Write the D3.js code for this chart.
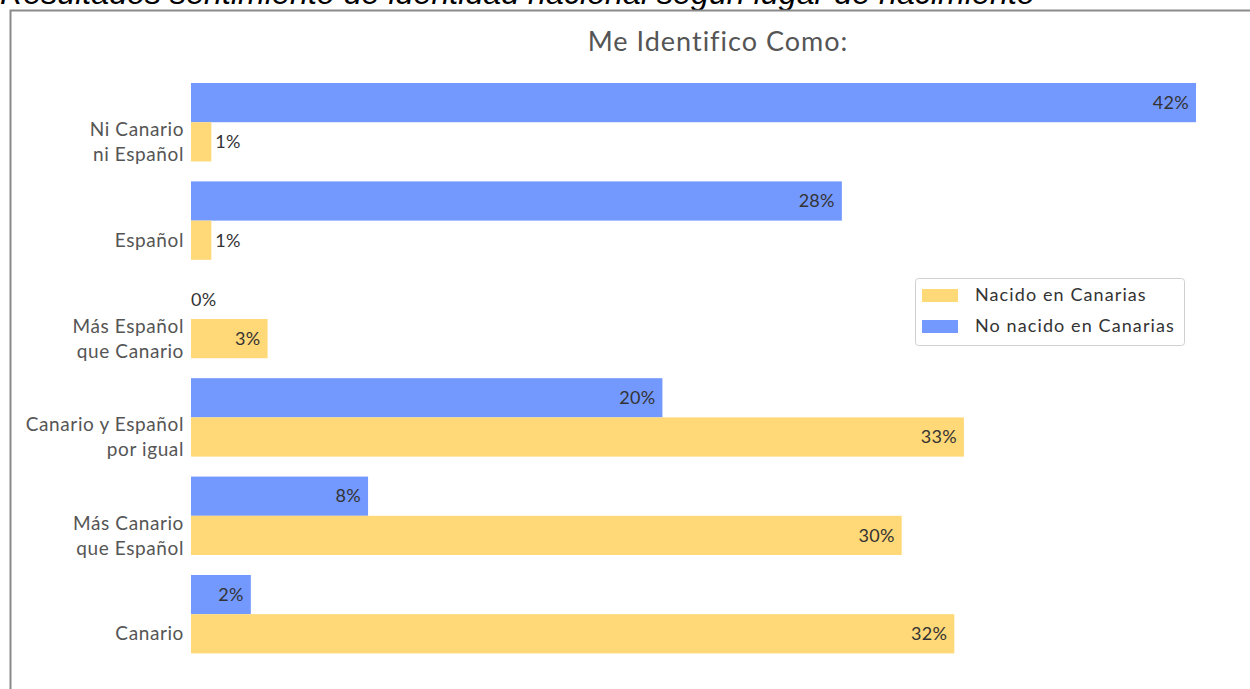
<!DOCTYPE html>
<html><head><meta charset="utf-8">
<script src="https://cdn.jsdelivr.net/npm/d3@7"></script>
<style>html,body{margin:0;padding:0;background:#fff;overflow:hidden}</style>
</head><body>
<svg id="c" width="1250" height="689"></svg>
<script>
const categories = ["Ni Canario|ni Español", "Español", "Más Español|que Canario", "Canario y Español|por igual", "Más Canario|que Español", "Canario"];
const series = ["No nacido en Canarias", "Nacido en Canarias"];
const noNacido = [42, 27.2, 0, 19.7, 7.4, 2.5];
const nacido = [0.85, 0.85, 3.2, 32.3, 29.7, 31.9];
const noNacidoLabels = ["42%", "28%", "0%", "20%", "8%", "2%"];
const nacidoLabels = ["1%", "1%", "3%", "33%", "30%", "32%"];
const legendOrder = ["Nacido en Canarias", "No nacido en Canarias"];
const pageTitle = "Resultados sentimiento de identidad nacional según lugar de nacimiento";
const chartTitle = "Me Identifico Como:";

const colors = {"No nacido en Canarias": "#7399ff", "Nacido en Canarias": "#ffd877"};
const FONT = "Lato, 'Open Sans', sans-serif";
const svg = d3.select("#c");

// page heading (cut off at top)
const ht = svg.append("text").attr("x", 0).attr("y", 4)
  .attr("font-family", "'Liberation Sans', Arial, sans-serif").attr("font-style", "italic")
  .attr("font-size", 26).attr("fill", "#000").text(pageTitle);
const w0 = ht.node().getComputedTextLength();
ht.attr("font-size", 26 * 1035 / w0);

// frame
svg.append("rect").attr("x", 10.5).attr("y", 10.5).attr("width", 1400).attr("height", 900)
  .attr("fill", "none").attr("stroke", "#8a8a8a").attr("stroke-width", 2);

svg.append("text").attr("x", 718).attr("y", 51).attr("text-anchor", "middle")
  .attr("font-family", FONT).attr("font-size", 27).attr("letter-spacing", 1).attr("fill", "#555").text(chartTitle);

const x = d3.scaleLinear().domain([0, 42]).range([191, 1196]);
const y = d3.scaleBand().domain(categories).range([83, 653.4]).paddingInner(0.203).paddingOuter(0);
const ys = d3.scaleBand().domain(series).range([0, y.bandwidth()]);

const rows = categories.map((c, i) => ({c, vals: [
  {s: series[0], v: noNacido[i], l: noNacidoLabels[i]},
  {s: series[1], v: nacido[i], l: nacidoLabels[i]}]}));

const g = svg.append("g").selectAll("g").data(rows).join("g")
  .attr("transform", d => `translate(0,${y(d.c)})`);

g.selectAll("rect").data(d => d.vals).join("rect")
  .attr("x", x(0)).attr("y", d => ys(d.s)).attr("height", ys.bandwidth())
  .attr("width", d => x(d.v) - x(0)).attr("fill", d => colors[d.s]);

g.selectAll("text.v").data(d => d.vals).join("text").attr("class", "v")
  .attr("font-family", FONT).attr("font-size", 18).attr("letter-spacing", 0.3).attr("fill", "#333")
  .attr("y", d => ys(d.s) + ys.bandwidth() / 2).attr("dy", "0.35em")
  .text(d => d.l)
  .each(function(d) {
    const tw = this.getComputedTextLength();
    const bw = x(d.v) - x(0);
    if (bw > tw + 12) d3.select(this).attr("x", x(d.v) - 7).attr("text-anchor", "end");
    else d3.select(this).attr("x", x(d.v) + (d.v > 0 ? 4 : 0)).attr("text-anchor", "start");
  });

// category labels (centred on second sub-band)
const yAxis = d3.axisLeft(y).tickSize(0).tickPadding(0);
const ax = svg.append("g").attr("transform", `translate(184,${ys.bandwidth() / 2})`).call(yAxis);
ax.select(".domain").remove();
ax.selectAll(".tick text").each(function(d) {
  const t = d3.select(this);
  const lines = d.split("|");
  t.text(null).attr("x", 0).attr("dy", null).attr("y", 0)
   .attr("font-family", FONT).attr("font-size", 19).attr("letter-spacing", 0.6)
   .attr("fill", "#555").attr("text-anchor", "end");
  lines.forEach((ln, k) => {
    t.append("tspan").attr("x", 0)
      .attr("y", (k - (lines.length - 1) / 2) * 25)
      .attr("dy", "0.35em").text(ln);
  });
});

// legend
const lg = svg.append("g").attr("transform", "translate(915,278)");
lg.append("rect").attr("x", 0.5).attr("y", 0.5).attr("width", 269).attr("height", 67).attr("rx", 3)
  .attr("fill", "#fff").attr("stroke", "#d0d0d0");
const li = lg.selectAll("g").data(legendOrder).join("g").attr("transform", (d, i) => `translate(0,${17 + i * 31})`);
li.append("rect").attr("x", 7).attr("y", -6).attr("width", 36).attr("height", 13).attr("fill", d => colors[d]);
li.append("text").attr("x", 60).attr("dy", "0.35em").attr("font-family", FONT).attr("font-size", 18)
  .attr("letter-spacing", 1.1).attr("fill", "#333").text(d => d);
</script>
</body></html>
